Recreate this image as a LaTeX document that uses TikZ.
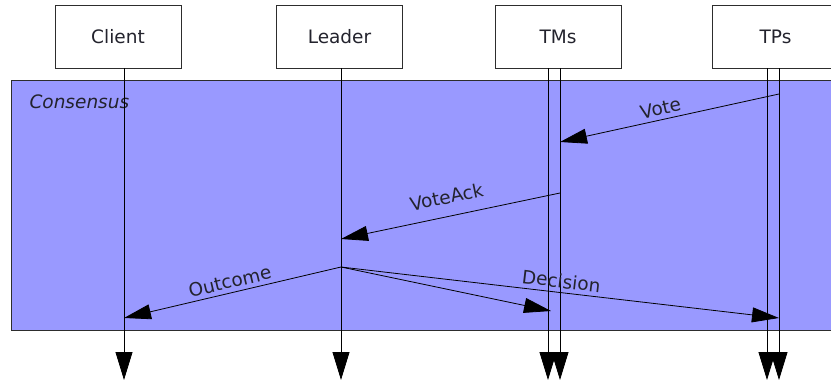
\documentclass[tikz,border=0pt]{standalone}
\usepackage{fontspec}
\setmainfont{DejaVu Sans}[ItalicFont={DejaVu Sans Oblique},BoldFont={DejaVu Sans Bold}]
\usetikzlibrary{arrows.meta}
\definecolor{consfill}{RGB}{153,153,255}
\definecolor{edge}{RGB}{45,45,45}
\definecolor{ink}{RGB}{35,35,45}
\begin{document}
\begin{tikzpicture}[x=1pt,y=-1pt,
  actor/.style={draw=edge, line width=0.8pt, fill=white, minimum width=126pt,
    minimum height=63pt, inner sep=0pt, text=ink, font=\fontsize{18.5}{22}\selectfont},
  lifeline/.style={line width=0.8pt, -{Triangle[length=28pt,width=17pt]}},
  msg/.style={line width=0.8pt, -{Triangle[length=27pt,width=15pt]}},
  lbl/.style={font=\fontsize{18.5}{22}\selectfont, text=ink, sloped, above, midway, inner sep=4pt}]
\useasboundingbox (0,0) rectangle (831,381);
\clip (0,0) rectangle (831,381);

% consensus region
\draw[draw=edge, line width=0.8pt, fill=consfill] (11,80) rectangle (845,330);
\node[anchor=west, text=ink, font=\fontsize{18.5}{22}\selectfont\itshape] (cons) at (26,102) {Consensus};

% participants
\node[actor] (client) at (118,36.5) {Client};
\node[actor] (leader) at (339.5,36.5) {Leader};
\node[actor] (tms) at (558,36.5) {TMs};
\node[actor] (tps) at (775.5,36.5) {TPs};

% lifeline ends
\coordinate (clTop) at (124,68);   \coordinate (clBot) at (124,380);
\coordinate (ldTop) at (341,68);   \coordinate (ldBot) at (341,380);
\coordinate (tmaTop) at (548,68);  \coordinate (tmaBot) at (548,380);
\coordinate (tmbTop) at (560,68);  \coordinate (tmbBot) at (560,380);
\coordinate (tpaTop) at (767,68);  \coordinate (tpaBot) at (767,380);
\coordinate (tpbTop) at (779,68);  \coordinate (tpbBot) at (779,380);

\draw[lifeline] (clTop) -- (clBot);
\draw[lifeline] (ldTop) -- (ldBot);
\draw[lifeline] (tmaTop) -- (tmaBot);
\draw[lifeline] (tmbTop) -- (tmbBot);
\draw[lifeline] (tpaTop) -- (tpaBot);
\draw[lifeline] (tpbTop) -- (tpbBot);

% message end points
\coordinate (tpVote) at (779,94);  \coordinate (tmVote) at (560,142);
\coordinate (tmAck) at (560,193);  \coordinate (ldAck) at (341,239);
\coordinate (ldOut) at (341,267);  \coordinate (clOut) at (124,318);
\coordinate (tmDec) at (551,311);  \coordinate (tpDec) at (779,318);

% messages
\draw[msg] (tpVote) -- node[lbl, pos=0.53] {Vote} (tmVote);
\draw[msg] (tmAck) -- node[lbl, inner sep=12pt] {VoteAck} (ldAck);
\draw[msg] (ldOut) -- node[lbl] {Outcome} (clOut);
\draw[msg] (ldOut) -- (tmDec);
\draw[msg] (ldOut) -- node[lbl] {Decision} (tpDec);
\end{tikzpicture}
\end{document}
